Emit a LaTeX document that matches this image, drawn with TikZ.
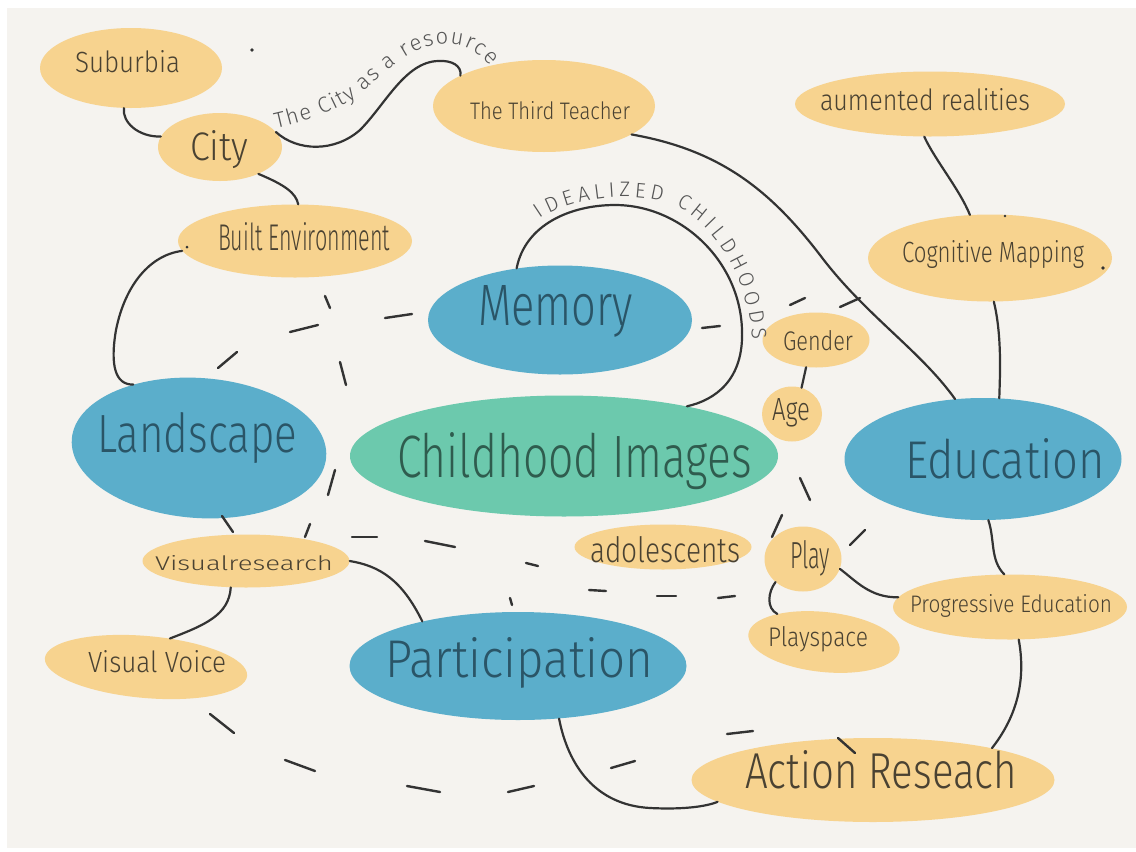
\documentclass[tikz,border=0pt]{standalone}
\usepackage{graphicx}
\usepackage{fontspec}
\setmainfont{Fira Sans Light}
\usetikzlibrary{shapes.geometric,decorations.text}
\definecolor{bg}{HTML}{F5F3EF}
\definecolor{ylw}{HTML}{F7D38F}
\definecolor{blu}{HTML}{5BAECB}
\definecolor{grn}{HTML}{6CC9AD}
\definecolor{ink}{HTML}{333333}
\definecolor{tyl}{HTML}{4A4232}
\definecolor{tbl}{HTML}{2A5567}
\definecolor{tgr}{HTML}{2F5C4E}
\definecolor{tgy}{HTML}{555555}
\newcommand{\hw}[3]{\resizebox{#1pt}{#2pt}{#3}}
\tikzset{
  blob/.style={ellipse, inner sep=0pt, draw=none},
  yb/.style={blob, fill=ylw},
  bb/.style={blob, fill=blu},
  gb/.style={blob, fill=grn},
  lbl/.style={anchor=base west, inner sep=0pt, outer sep=0pt},
  ly/.style={lbl, text=tyl},
  lb/.style={lbl, text=tbl},
  lg/.style={lbl, text=tgr},
  link/.style={draw=ink, line width=2.2pt, line cap=round},
  dsh/.style={draw=ink, line width=2.4pt, line cap=round},
}
\begin{document}
\begin{tikzpicture}[x=1pt,y=1pt]
\useasboundingbox (0,0) rectangle (1136,-852);
\fill[white] (0,0) rectangle (1136,-852);
\fill[bg] (7,-8) rectangle (1136,-848);

% blobs
\node[yb, minimum width=182pt, minimum height=80pt] (suburbia) at (131,-68) {};
\node[yb, minimum width=124pt, minimum height=68pt] (city) at (220,-147) {};
\node[yb, minimum width=222pt, minimum height=92pt] (teacher) at (544,-106) {};
\node[yb, minimum width=234pt, minimum height=73pt] (builtenv) at (295,-241) {};
\node[yb, minimum width=270pt, minimum height=65pt] (aug) at (930,-104) {};
\node[yb, minimum width=244pt, minimum height=87pt] (cogmap) at (990,-258) {};
\node[bb, minimum width=264pt, minimum height=109pt] (memory) at (560,-320) {};
\node[yb, minimum width=107pt, minimum height=55pt] (gender) at (816,-340) {};
\node[yb, minimum width=60pt, minimum height=55pt] (age) at (792,-414) {};
\node[bb, minimum width=255pt, minimum height=140pt, rotate=-4] (landscape) at (199,-448) {};
\node[gb, minimum width=428pt, minimum height=121pt] (childhood) at (564,-456) {};
\node[bb, minimum width=277pt, minimum height=122pt] (education) at (983,-459) {};
\node[yb, minimum width=207pt, minimum height=53pt] (visres) at (246,-561) {};
\node[yb, minimum width=177pt, minimum height=45pt] (adol) at (663,-547) {};
\node[yb, minimum width=77pt, minimum height=65pt] (play) at (803,-559) {};
\node[yb, minimum width=234pt, minimum height=65pt] (proged) at (1010,-607) {};
\node[yb, minimum width=152pt, minimum height=60pt, rotate=-6] (playspace) at (824,-642) {};
\node[yb, minimum width=203pt, minimum height=62pt, rotate=-5] (visvoice) at (146,-667) {};
\node[bb, minimum width=337pt, minimum height=108pt] (particip) at (518,-666) {};
\node[yb, minimum width=363pt, minimum height=84pt] (action) at (873,-780) {};

% labels
\node[ly] (suburbia-t) at (75,-72) {\hw{105}{22}{Suburbia}};
\node[ly] (city-t) at (190,-160) {\hw{58}{30}{City}};
\node[ly] (teacher-t) at (470,-119) {\hw{160}{18}{The Third Teacher}};
\node[ly] (builtenv-t) at (218,-250) {\hw{172}{28}{Built Environment}};
\node[ly] (aug-t) at (820,-110) {\hw{210}{22}{aumented realities}};
\node[ly] (cogmap-t) at (902,-262) {\hw{182}{22}{Cognitive Mapping}};
\node[lb] (memory-t) at (478,-325) {\hw{155}{40}{Memory}};
\node[ly] (gender-t) at (783,-350) {\hw{70}{20}{Gender}};
\node[ly] (age-t) at (772,-420) {\hw{38}{22}{Age}};
\node[lb] (landscape-t) at (97,-452) {\hw{200}{40}{Landscape}};
\node[lg] (childhood-t) at (397,-477) {\hw{355}{45}{Childhood Images}};
\node[lb] (education-t) at (905,-478) {\hw{200}{40}{Education}};
\node[ly] (visres-t) at (155,-570) {\hw{178}{15}{Visualresearch}};
\node[ly] (adol-t) at (590,-562) {\hw{150}{26}{adolescents}};
\node[ly] (play-t) at (790,-568) {\hw{40}{28}{Play}};
\node[ly] (proged-t) at (910,-612) {\hw{202}{18}{Progressive Education}};
\node[ly] (playspace-t) at (768,-646) {\hw{100}{20}{Playspace}};
\node[ly] (visvoice-t) at (88,-672) {\hw{138}{22}{Visual Voice}};
\node[lb] (particip-t) at (385,-677) {\hw{268}{40}{Participation}};
\node[ly] (action-t) at (745,-788) {\hw{272}{38}{Action Reseach}};

% solid connectors
\draw[link] (suburbia.260) .. controls (122,-122) and (138,-137) .. (city.170);
\draw[link] (city.15) .. controls (298,-152) and (335,-152) .. (360,-130) .. controls (385,-105) and (405,-62) .. (438,-61) .. controls (452,-60) and (462,-66) .. (teacher.160);
\draw[link] (city.-35) .. controls (285,-185) and (296,-193) .. (builtenv.85);
\draw[link] (builtenv.185) .. controls (150,-255) and (125,-285) .. (116,-330) .. controls (110,-365) and (115,-385) .. (landscape.140);
\draw[link] (teacher.-18) .. controls (720,-150) and (770,-190) .. (820,-255) .. controls (865,-315) and (920,-350) .. (education.115);
\draw[link] (aug.-100) .. controls (935,-160) and (960,-190) .. (cogmap.115);
\draw[link] (cogmap.-85) .. controls (1002,-335) and (1000,-375) .. (education.75);
\draw[link] (memory.130) .. controls (525,-225) and (570,-205) .. (615,-205) .. controls (680,-205) and (740,-260) .. (742,-330) .. controls (744,-380) and (715,-400) .. (childhood.22);
\draw[link] (gender.-110) -- (age.70);
\draw[link] (education.-85) .. controls (995,-540) and (990,-560) .. (proged.100);
\draw[link] (play.-15) .. controls (855,-580) and (870,-598) .. (proged.175);
\draw[link] (play.-140) .. controls (768,-592) and (766,-608) .. (playspace.155);
\draw[link] (visres.0) .. controls (380,-566) and (402,-580) .. (particip.155);
\draw[link] (visres.-120) .. controls (229,-615) and (205,-625) .. (visvoice.55);
\draw[link] (proged.-75) .. controls (1028,-690) and (1010,-725) .. (action.15);
\draw[link] (particip.-52) .. controls (568,-765) and (595,-805) .. (650,-808) .. controls (690,-810) and (710,-805) .. (action.188);

% texts along connectors
\path[decorate, decoration={text along path, text align={fit to path},
  text={|\fontsize{22}{22}\selectfont\color{tgy}|The City as a resource}}]
  (276,-128) .. controls (312,-120) and (345,-108) .. (368,-88) .. controls (390,-68) and (415,-44) .. (447,-44) .. controls (467,-44) and (480,-54) .. (490,-66);
\path[decorate, decoration={text along path, text align={fit to path},
  text={|\fontsize{21}{21}\selectfont\color{tgy}|IDEALIZED CHILDHOODS}}]
  (540,-219) .. controls (570,-197) and (640,-188) .. (680,-208) .. controls (720,-230) and (750,-285) .. (752,-340);

% dashed strokes
\foreach \a/\b/\c/\d in {
  325/296/330/308, 385/318/412/314, 290/332/318/325, 218/368/237/352,
  340/362/346/385, 335/470/328/495, 222/516/233/532, 305/537/310/524,
  352/537/377/537, 425/541/455/547, 526/563/538/566, 510/598/512/605,
  702/328/720/326, 790/305/805/298, 840/307/860/298, 800/478/810/500,
  772/537/782/515, 850/545/865/530, 589/590/606/591, 657/596/676/596,
  718/598/735/596, 210/714/234/733, 285/760/315/771, 407/786/440/792,
  508/792/534/786, 611/768/635/761, 727/734/753/731, 838/738/855/753}
  \draw[dsh] (\a,-\b) -- (\c,-\d);

% small dots
\fill[ink] (252,-50) circle (1.8);
\fill[ink] (1005,-216) circle (1.3);
\fill[ink] (1103,-268) circle (1.8);
\fill[ink] (187,-247) circle (1.5);
\end{tikzpicture}
\end{document}
